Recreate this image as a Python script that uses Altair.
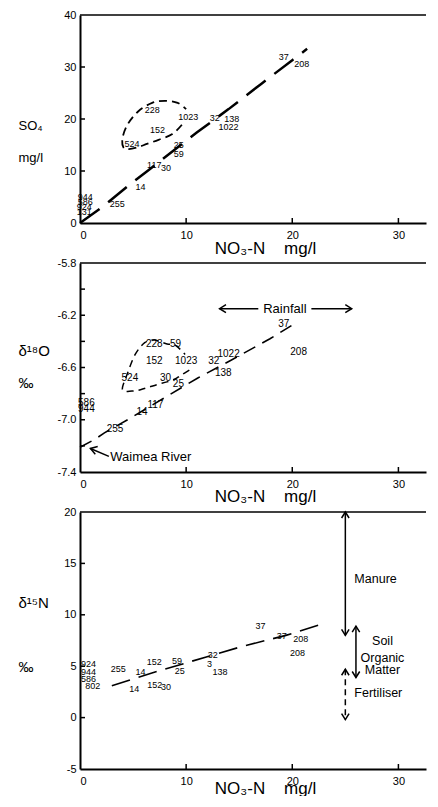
import altair as alt
import pandas as pd

FONT = "Liberation Sans"
W = 346
XMAX = 32.6
X_TICKS = [10, 20, 30]
X_LABELS = [0, 10, 20, 30]
X_TITLE = "NO\u2083-N\u00a0\u00a0\u00a0\u00a0mg/l"

# ---------------- Panel 1: SO4 vs NO3-N ----------------
p1_labels = ["944", "586", "924", "131", "255", "14", "117", "30", "25", "59",
             "524", "152", "228", "1023", "32", "138", "1022", "37", "208"]
p1_x = [0.5, 0.5, 0.4, 0.4, 3.5, 5.7, 7.0, 8.1, 9.3, 9.3,
        4.9, 7.3, 6.8, 10.2, 12.7, 14.3, 14.0, 19.2, 20.9]
p1_y = [5.0, 4.0, 3.1, 2.1, 3.6, 6.9, 11.2, 10.5, 15.0, 13.3,
        15.2, 17.9, 21.7, 20.4, 20.2, 20.0, 18.5, 31.9, 30.6]
p1_trend_x = [0, 2.0, 4.9, 6.6, 11.0, 14.0, 17.1, 20.0, 21.4]
p1_trend_y = [0, 2.9, 7.75, 10.4, 17.4, 21.9, 26.8, 31.3, 33.5]
p1_loop_x = [9.6, 8.7, 7.4, 6.3, 5.5, 4.6, 4.1, 4.0, 4.5, 5.5, 6.8, 8.0, 9.2, 10.0]
p1_loop_y = [18.9, 17.1, 16.0, 15.2, 14.6, 14.2, 14.5, 16.3, 19.0, 21.5, 23.1, 23.5, 23.1, 21.9]
p1_yvals = [0, 10, 20, 30, 40]
p1_yticks = [10, 20, 30]

# ---------------- Panel 2: d18O vs NO3-N ----------------
p2_labels = ["586", "944", "255", "14", "117", "30", "25", "524", "152", "228",
             "59", "1023", "32", "1022", "138", "37", "208"]
p2_x = [0.6, 0.6, 3.3, 5.85, 7.1, 8.05, 9.27, 4.7, 7.0, 7.0,
        9.0, 10.0, 12.6, 14.0, 13.5, 19.2, 20.6]
p2_y = [-6.87, -6.92, -7.07, -6.94, -6.89, -6.68, -6.73, -6.68, -6.55, -6.42,
        -6.42, -6.55, -6.55, -6.50, -6.64, -6.27, -6.48]
p2_trend_x = [0, 1.4, 2.3, 4.7, 11.1, 14.1, 17.9, 20.3]
p2_trend_y = [-7.21, -7.15, -7.10, -6.99, -6.68, -6.55, -6.38, -6.26]
p2_loop_x = [10.3, 9.5, 8.9, 8.2, 7.3, 6.5, 5.7, 4.9, 4.0, 4.45, 5.2, 6.1, 7.0, 8.2, 9.0, 9.9]
p2_loop_y = [-6.62, -6.66, -6.69, -6.71, -6.73, -6.75, -6.77, -6.78, -6.77, -6.65,
             -6.50, -6.41, -6.39, -6.42, -6.43, -6.50]
p2_yvals = [-5.8, -6.2, -6.6, -7.0, -7.4]
p2_yticks = [-6.0, -6.2, -6.4, -6.6, -6.8, -7.0, -7.2]
rain_seg_x = [13.15, 21.8]
rain_seg_x2 = [16.8, 25.6]
rain_y = -6.15
rain_heads = [(13.15, "left"), (25.6, "right")]
rain_text = ("Rainfall", 19.3)
waimea_arrow = (2.72, -7.28, 0.98, -7.22)
waimea_text = ("Waimea River", 2.85, -7.286)

# ---------------- Panel 3: d15N vs NO3-N ----------------
p3_labels = ["924", "944", "586", "802", "255", "14", "14", "152", "152", "30",
             "59", "25", "32", "3", "138", "37", "37", "208", "208"]
p3_x = [0.8, 0.8, 0.8, 1.2, 3.6, 5.7, 5.1, 7.0, 7.05, 8.1,
        9.15, 9.4, 12.5, 12.2, 13.2, 17.0, 19.0, 20.8, 20.5]
p3_y = [5.25, 4.4, 3.75, 3.1, 4.77, 4.45, 2.8, 5.4, 3.14, 2.95,
        5.5, 4.55, 6.06, 5.2, 4.4, 8.9, 7.9, 7.6, 6.3]
p3_trend_x = [3.0, 7.3, 11.9, 15.2, 19.4, 22.8]
p3_trend_y = [3.1, 4.5, 5.9, 6.9, 8.0, 9.1]
p3_yvals = [-5, 0, 5, 10, 15, 20]
p3_yticks = [0, 5, 10, 15]
src_solid_x = [25.0, 26.0]
src_solid_top = [20.0, 8.9]
src_solid_bot = [8.0, 3.9]
src_dash = (25.0, 4.7, -0.2)
src_heads = [(25.0, 20.0, "up"), (25.0, 8.0, "down"), (26.0, 8.9, "up"),
             (26.0, 3.9, "down"), (25.0, 4.7, "up"), (25.0, -0.2, "down")]
src_left_text = [("Manure", 25.85, 13.5), ("Fertiliser", 25.85, 2.4)]
src_center_text = [("Soil", 28.5, 7.45), ("Organic", 28.5, 5.8), ("Matter", 28.5, 4.6)]

# chevron arrowheads (tip at the point)
UP = "M-1,1.6L0,0L1,1.6"
DOWN = "M-1,-1.6L0,0L1,-1.6"
LEFT = "M1.6,-1L0,0L1.6,1"
RIGHT = "M-1.6,-1L0,0L-1.6,1"
shape_scale = alt.Scale(domain=["up", "down", "left", "right"], range=[UP, DOWN, LEFT, RIGHT])

MINUS_FIX = "replace(datum.label, '\u2212', '-')"


class Panel:
    def __init__(self, ydomain, yvals, ytitle, ytitle_fs, ytitle_y, ytitle_lh, xtitle_y, fmt):
        self.sx = alt.Scale(domain=[0, XMAX], nice=False, zero=False)
        self.sy = alt.Scale(domain=ydomain, nice=False, zero=False)
        self.ax = alt.Axis(values=X_LABELS, title=X_TITLE, titleX=185, titleY=xtitle_y,
                           titleAlign="center", titleBaseline="alphabetic", titleFontSize=17)
        self.ay = alt.Axis(values=yvals, title=ytitle, titleAngle=0, titleX=-62, titleY=ytitle_y,
                           titleAlign="left", titleBaseline="alphabetic", titleFontSize=ytitle_fs,
                           titleLineHeight=ytitle_lh, format=fmt, labelExpr=MINUS_FIX)

    def X(self, f):
        return alt.X(f, scale=self.sx, axis=self.ax)

    def Y(self, f):
        return alt.Y(f, scale=self.sy, axis=self.ay)


def frame_layers(P, H, yticks):
    top = alt.Chart(pd.DataFrame({"a": [0]})).mark_rule(color="black", strokeWidth=1.5).encode(
        x=alt.value(0), x2=alt.value(W), y=alt.value(0))
    xt = alt.Chart(pd.DataFrame({"v": X_TICKS})).mark_rule(color="black", strokeWidth=1.5).encode(
        x=P.X("v:Q"), y=alt.value(H), y2=alt.value(H - 5))
    yt = alt.Chart(pd.DataFrame({"v": yticks})).mark_rule(color="black", strokeWidth=1.5).encode(
        y=P.Y("v:Q"), x=alt.value(0), x2=alt.value(5))
    return [top, xt, yt]


def label_layer(P, labels, xs, ys, fs):
    df = pd.DataFrame({"label": labels, "x": xs, "y": ys})
    return alt.Chart(df).mark_text(font=FONT, fontSize=fs, color="black").encode(
        x=P.X("x:Q"), y=P.Y("y:Q"), text="label:N")


def line_layer(P, xs, ys, dash, sw, interp="linear"):
    df = pd.DataFrame({"x": xs, "y": ys, "o": list(range(len(xs)))})
    return alt.Chart(df).mark_line(color="black", strokeDash=dash, strokeWidth=sw,
                                   interpolate=interp).encode(
        x=P.X("x:Q"), y=P.Y("y:Q"), order="o:Q")


def text_layer(P, items, fs, align):
    df = pd.DataFrame({"t": [t[0] for t in items], "x": [t[1] for t in items], "y": [t[2] for t in items]})
    return alt.Chart(df).mark_text(font=FONT, fontSize=fs, color="black", align=align).encode(
        x=P.X("x:Q"), y=P.Y("y:Q"), text="t:N")


def heads_layer(P, items, size, angle=0):
    df = pd.DataFrame({"x": [h[0] for h in items], "y": [h[1] for h in items], "dir": [h[2] for h in items]})
    return alt.Chart(df).mark_point(filled=False, color="black", strokeWidth=1.5, opacity=1,
                                    size=size, angle=angle).encode(
        x=P.X("x:Q"), y=P.Y("y:Q"), shape=alt.Shape("dir:N", scale=shape_scale, legend=None))


# ----- Panel 1 -----
H1 = 208
P1 = Panel([0, 40], p1_yvals, ["SO\u2084", "mg/l"], 13, 114, 32, 30, "d")
p1 = alt.layer(
    label_layer(P1, p1_labels, p1_x, p1_y, 9),
    line_layer(P1, p1_trend_x, p1_trend_y, [24, 11], 2.5),
    line_layer(P1, p1_loop_x, p1_loop_y, [8, 5], 1.8, "cardinal"),
    *frame_layers(P1, H1, p1_yticks),
).properties(width=W, height=H1)

# ----- Panel 2 -----
H2 = 209
P2 = Panel([-7.4, -5.8], p2_yvals, ["\u03b4\u00b9\u2078O", "\u2030"], 15, 92, 32, 29, ".1f")
rain_df = pd.DataFrame({"x": rain_seg_x, "x2": rain_seg_x2, "y": [rain_y] * len(rain_seg_x)})
rain_rules = alt.Chart(rain_df).mark_rule(color="black", strokeWidth=1.5).encode(
    x=P2.X("x:Q"), x2="x2:Q", y=P2.Y("y:Q"))
rain_heads_l = heads_layer(P2, [(h[0], rain_y, h[1]) for h in rain_heads], 64)
rain_txt = text_layer(P2, [(rain_text[0], rain_text[1], rain_y)], 13, "center")
wa_df = pd.DataFrame({"x": [waimea_arrow[0]], "y": [waimea_arrow[1]],
                      "x2": [waimea_arrow[2]], "y2": [waimea_arrow[3]]})
wa_rule = alt.Chart(wa_df).mark_rule(color="black", strokeWidth=1.5).encode(
    x=P2.X("x:Q"), y=P2.Y("y:Q"), x2="x2:Q", y2="y2:Q")
wa_head = heads_layer(P2, [(waimea_arrow[2], waimea_arrow[3], "left")], 64, angle=17.5)
wa_txt = text_layer(P2, [waimea_text], 13, "left")
p2 = alt.layer(
    label_layer(P2, p2_labels, p2_x, p2_y, 10),
    line_layer(P2, p2_trend_x, p2_trend_y, [13, 8], 1.6),
    line_layer(P2, p2_loop_x, p2_loop_y, [7, 5], 1.5, "cardinal"),
    rain_rules, rain_heads_l, rain_txt, wa_rule, wa_head, wa_txt,
    *frame_layers(P2, H2, p2_yticks),
).properties(width=W, height=H2)

# ----- Panel 3 -----
H3 = 257
P3 = Panel([-5, 20], p3_yvals, ["\u03b4\u00b9\u2075N", "\u2030"], 15, 95, 64, 24, "d")
solid_df = pd.DataFrame({"x": src_solid_x, "y": src_solid_top, "y2": src_solid_bot})
solid_rules = alt.Chart(solid_df).mark_rule(color="black", strokeWidth=1.5).encode(
    x=P3.X("x:Q"), y=P3.Y("y:Q"), y2="y2:Q")
dash_df = pd.DataFrame({"x": [src_dash[0]], "y": [src_dash[1]], "y2": [src_dash[2]]})
dash_rule = alt.Chart(dash_df).mark_rule(color="black", strokeWidth=1.5, strokeDash=[6, 4]).encode(
    x=P3.X("x:Q"), y=P3.Y("y:Q"), y2="y2:Q")
p3 = alt.layer(
    label_layer(P3, p3_labels, p3_x, p3_y, 9),
    line_layer(P3, p3_trend_x, p3_trend_y, [19, 9], 1.6),
    solid_rules, dash_rule, heads_layer(P3, src_heads, 56),
    text_layer(P3, src_left_text, 12.5, "left"),
    text_layer(P3, src_center_text, 12.5, "center"),
    *frame_layers(P3, H3, p3_yticks),
).properties(width=W, height=H3)

chart = alt.vconcat(p1, p2, p3, spacing=40, bounds="flush").properties(
    padding={"left": 10, "top": 1, "right": 0, "bottom": 0}
).configure_view(stroke=None).configure_axis(
    domainColor="black", domainWidth=2, ticks=False, grid=False,
    labelFont=FONT, labelFontSize=11, labelColor="black",
    titleFont=FONT, titleColor="black", titleFontWeight="normal",
).configure_axisX(labelPadding=6).configure_axisY(labelPadding=4)

chart.save("out.html", embed_options={"renderer": "svg", "actions": False})
